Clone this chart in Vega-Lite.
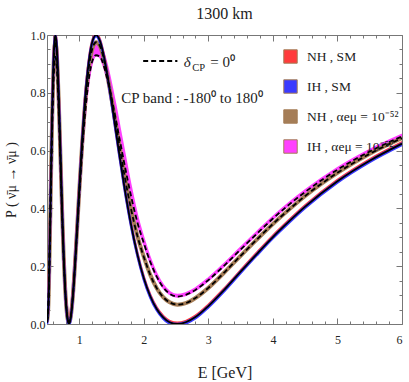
{
  "$schema": "https://vega.github.io/schema/vega-lite/v6.json",
  "width": 355,
  "height": 289,
  "autosize": {"type": "none"},
  "padding": {"left": 47, "top": 35, "right": 7, "bottom": 58},
  "title": {"text": "1300 km", "font": "Liberation Serif", "fontSize": 16, "fontWeight": "normal", "offset": 7, "color": "#222"},
  "config": {
    "view": {"stroke": "#777", "strokeWidth": 1},
    "font": "Liberation Serif"
  },
  "data": {
    "values": [
      {"E": 0.5, "s": 0.004, "n": 0.008, "m": 0.009, "mh": 0.029},
      {"E": 0.52, "s": 0.056, "n": 0.058, "m": 0.056, "mh": 0.076},
      {"E": 0.54, "s": 0.247, "n": 0.244, "m": 0.233, "mh": 0.253},
      {"E": 0.56, "s": 0.497, "n": 0.487, "m": 0.462, "mh": 0.482},
      {"E": 0.58, "s": 0.732, "n": 0.715, "m": 0.678, "mh": 0.698},
      {"E": 0.6, "s": 0.903, "n": 0.881, "m": 0.836, "mh": 0.856},
      {"E": 0.615, "s": 0.976, "n": 0.952, "m": 0.903, "mh": 0.923},
      {"E": 0.63, "s": 1.0, "n": 0.975, "m": 0.925, "mh": 0.945},
      {"E": 0.645, "s": 0.98, "n": 0.955, "m": 0.906, "mh": 0.926},
      {"E": 0.66, "s": 0.922, "n": 0.899, "m": 0.853, "mh": 0.873},
      {"E": 0.68, "s": 0.803, "n": 0.784, "m": 0.744, "mh": 0.764},
      {"E": 0.7, "s": 0.657, "n": 0.642, "m": 0.609, "mh": 0.629},
      {"E": 0.72, "s": 0.502, "n": 0.492, "m": 0.467, "mh": 0.487},
      {"E": 0.74, "s": 0.355, "n": 0.349, "m": 0.332, "mh": 0.352},
      {"E": 0.76, "s": 0.228, "n": 0.225, "m": 0.215, "mh": 0.235},
      {"E": 0.78, "s": 0.128, "n": 0.128, "m": 0.122, "mh": 0.142},
      {"E": 0.8, "s": 0.055, "n": 0.058, "m": 0.056, "mh": 0.076},
      {"E": 0.82, "s": 0.014, "n": 0.017, "m": 0.018, "mh": 0.038},
      {"E": 0.84, "s": 0.0, "n": 0.004, "m": 0.005, "mh": 0.025},
      {"E": 0.86, "s": 0.012, "n": 0.015, "m": 0.016, "mh": 0.036},
      {"E": 0.88, "s": 0.044, "n": 0.047, "m": 0.046, "mh": 0.066},
      {"E": 0.9, "s": 0.094, "n": 0.095, "m": 0.091, "mh": 0.121},
      {"E": 0.93, "s": 0.193, "n": 0.193, "m": 0.186, "mh": 0.221},
      {"E": 0.96, "s": 0.309, "n": 0.306, "m": 0.294, "mh": 0.329},
      {"E": 1.0, "s": 0.467, "n": 0.461, "m": 0.442, "mh": 0.477},
      {"E": 1.04, "s": 0.618, "n": 0.608, "m": 0.582, "mh": 0.617},
      {"E": 1.08, "s": 0.749, "n": 0.734, "m": 0.702, "mh": 0.737},
      {"E": 1.12, "s": 0.853, "n": 0.834, "m": 0.796, "mh": 0.831},
      {"E": 1.16, "s": 0.928, "n": 0.906, "m": 0.865, "mh": 0.9},
      {"E": 1.2, "s": 0.975, "n": 0.951, "m": 0.908, "mh": 0.943},
      {"E": 1.26, "s": 1.0, "n": 0.975, "m": 0.93, "mh": 0.965},
      {"E": 1.32, "s": 0.98, "n": 0.962, "m": 0.925, "mh": 0.962},
      {"E": 1.38, "s": 0.928, "n": 0.918, "m": 0.893, "mh": 0.933},
      {"E": 1.44, "s": 0.854, "n": 0.853, "m": 0.843, "mh": 0.883},
      {"E": 1.5, "s": 0.769, "n": 0.778, "m": 0.782, "mh": 0.822},
      {"E": 1.56, "s": 0.678, "n": 0.7, "m": 0.715, "mh": 0.755},
      {"E": 1.62, "s": 0.588, "n": 0.62, "m": 0.645, "mh": 0.683},
      {"E": 1.7, "s": 0.473, "n": 0.515, "m": 0.553, "mh": 0.588},
      {"E": 1.8, "s": 0.346, "n": 0.4, "m": 0.445, "mh": 0.472},
      {"E": 1.9, "s": 0.241, "n": 0.305, "m": 0.352, "mh": 0.37},
      {"E": 2.0, "s": 0.158, "n": 0.232, "m": 0.28, "mh": 0.292},
      {"E": 2.1, "s": 0.096, "n": 0.17, "m": 0.215, "mh": 0.224},
      {"E": 2.2, "s": 0.052, "n": 0.124, "m": 0.164, "mh": 0.171},
      {"E": 2.3, "s": 0.023, "n": 0.093, "m": 0.127, "mh": 0.133},
      {"E": 2.4, "s": 0.006, "n": 0.075, "m": 0.105, "mh": 0.11},
      {"E": 2.52, "s": 0.0, "n": 0.067, "m": 0.095, "mh": 0.1},
      {"E": 2.65, "s": 0.006, "n": 0.072, "m": 0.101, "mh": 0.106},
      {"E": 2.8, "s": 0.024, "n": 0.09, "m": 0.118, "mh": 0.123},
      {"E": 3.0, "s": 0.062, "n": 0.125, "m": 0.152, "mh": 0.157},
      {"E": 3.25, "s": 0.119, "n": 0.179, "m": 0.203, "mh": 0.208},
      {"E": 3.5, "s": 0.181, "n": 0.236, "m": 0.258, "mh": 0.263},
      {"E": 3.75, "s": 0.242, "n": 0.292, "m": 0.312, "mh": 0.317},
      {"E": 4.0, "s": 0.301, "n": 0.346, "m": 0.365, "mh": 0.37},
      {"E": 4.25, "s": 0.355, "n": 0.396, "m": 0.413, "mh": 0.418},
      {"E": 4.5, "s": 0.406, "n": 0.443, "m": 0.457, "mh": 0.462},
      {"E": 5.0, "s": 0.494, "n": 0.523, "m": 0.534, "mh": 0.539},
      {"E": 5.5, "s": 0.565, "n": 0.589, "m": 0.597, "mh": 0.602},
      {"E": 6.0, "s": 0.624, "n": 0.643, "m": 0.649, "mh": 0.654}
    ]
  },
  "resolve": {"axis": {"x": "independent", "y": "independent"}},
  "layer": [
    {
      "mark": {"type": "area", "interpolate": "monotone", "stroke": "#ff40ff", "strokeWidth": 2.5, "clip": true},
      "encoding": {
        "x": {"field": "E", "type": "quantitative", "scale": {"domain": [0.5, 6], "nice": false, "zero": false},
          "axis": {"orient": "bottom", "values": [0.6, 0.8, 1, 1.2, 1.4, 1.6, 1.8, 2, 2.2, 2.4, 2.6, 2.8, 3, 3.2, 3.4, 3.6, 3.8, 4, 4.2, 4.4, 4.6, 4.8, 5, 5.2, 5.4, 5.6, 5.8, 6],
            "labelExpr": "datum.value % 1 === 0 ? format(datum.value, 'd') : ''",
            "tickSize": {"condition": {"test": "datum.value % 1 !== 0", "value": -3}, "value": -6},
            "tickColor": "#777", "domain": false, "grid": false, "labelOverlap": false,
            "labelFont": "Liberation Serif", "labelFontSize": 12, "labelColor": "#222", "labelPadding": 16,
            "title": "E [GeV]", "titleFont": "Liberation Serif", "titleFontSize": 16, "titleFontWeight": "normal", "titleColor": "#222", "titlePadding": 16}},
        "y": {"field": "m", "type": "quantitative", "scale": {"domain": [0, 1], "nice": false, "zero": false},
          "axis": {"orient": "left", "values": [0, 0.05, 0.1, 0.15, 0.2, 0.25, 0.3, 0.35, 0.4, 0.45, 0.5, 0.55, 0.6, 0.65, 0.7, 0.75, 0.8, 0.85, 0.9, 0.95, 1],
            "labelExpr": "round(datum.value * 100) % 20 === 0 ? format(datum.value, '.1f') : ''",
            "tickSize": {"condition": {"test": "round(datum.value * 100) % 20 !== 0", "value": -3}, "value": -6},
            "tickColor": "#777", "domain": false, "grid": false, "labelOverlap": false,
            "labelFont": "Liberation Serif", "labelFontSize": 12, "labelColor": "#222", "labelPadding": 8,
            "title": "P ( ν̄μ → ν̄μ )", "titleFont": "Liberation Serif", "titleFontSize": 14, "titleFontWeight": "normal", "titleColor": "#222", "titlePadding": 12}},
        "y2": {"field": "mh"},
        "color": {"datum": "IH , αeμ = 10⁻⁵²", "type": "nominal",
          "scale": {"domain": ["NH , SM", "IH , SM", "NH , αeμ = 10⁻⁵²", "IH , αeμ = 10⁻⁵²"], "range": ["#ff3b3b", "#3a3aff", "#a57d57", "#ff40ff"]},
          "legend": {"orient": "none", "legendX": 236, "legendY": 14, "title": null, "padding": 0, "symbolType": "square", "symbolSize": 180, "symbolStrokeColor": "#888", "symbolStrokeWidth": 1, "symbolOpacity": 1, "rowPadding": 11, "labelFont": "Liberation Serif", "labelFontSize": 13.5, "labelColor": "#222", "labelOffset": 9}}
      }
    },
    {
      "mark": {"type": "area", "interpolate": "monotone", "stroke": "#a57d57", "strokeWidth": 4, "clip": true},
      "encoding": {
        "x": {"field": "E", "type": "quantitative", "scale": {"domain": [0.5, 6], "nice": false, "zero": false},
          "axis": {"orient": "top", "values": [0.6, 0.8, 1, 1.2, 1.4, 1.6, 1.8, 2, 2.2, 2.4, 2.6, 2.8, 3, 3.2, 3.4, 3.6, 3.8, 4, 4.2, 4.4, 4.6, 4.8, 5, 5.2, 5.4, 5.6, 5.8, 6],
            "labels": false, "title": null, "domain": false, "grid": false, "tickColor": "#777",
            "tickSize": {"condition": {"test": "datum.value % 1 !== 0", "value": -3}, "value": -6}}},
        "y": {"field": "n", "type": "quantitative", "scale": {"domain": [0, 1], "nice": false, "zero": false},
          "axis": {"orient": "right", "values": [0, 0.05, 0.1, 0.15, 0.2, 0.25, 0.3, 0.35, 0.4, 0.45, 0.5, 0.55, 0.6, 0.65, 0.7, 0.75, 0.8, 0.85, 0.9, 0.95, 1],
            "labels": false, "title": null, "domain": false, "grid": false, "tickColor": "#777",
            "tickSize": {"condition": {"test": "round(datum.value * 100) % 20 !== 0", "value": -3}, "value": -6}}},
        "y2": {"field": "n"},
        "color": {"datum": "NH , αeμ = 10⁻⁵²", "type": "nominal"}
      }
    },
    {
      "mark": {"type": "area", "interpolate": "monotone", "stroke": "#ff3b3b", "strokeWidth": 2.5, "yOffset": -1.2, "clip": true},
      "encoding": {
        "x": {"field": "E", "type": "quantitative", "scale": {"domain": [0.5, 6], "nice": false, "zero": false}, "axis": null},
        "y": {"field": "s", "type": "quantitative", "scale": {"domain": [0, 1], "nice": false, "zero": false}, "axis": null},
        "y2": {"field": "s"},
        "color": {"datum": "NH , SM", "type": "nominal"}
      }
    },
    {
      "mark": {"type": "area", "interpolate": "monotone", "stroke": "#3a3aff", "strokeWidth": 2.5, "yOffset": 1.2, "clip": true},
      "encoding": {
        "x": {"field": "E", "type": "quantitative", "scale": {"domain": [0.5, 6], "nice": false, "zero": false}, "axis": null},
        "y": {"field": "s", "type": "quantitative", "scale": {"domain": [0, 1], "nice": false, "zero": false}, "axis": null},
        "y2": {"field": "s"},
        "color": {"datum": "IH , SM", "type": "nominal"}
      }
    },
    {
      "mark": {"type": "line", "interpolate": "monotone", "color": "#000", "strokeWidth": 1.8, "clip": true},
      "encoding": {
        "x": {"field": "E", "type": "quantitative", "scale": {"domain": [0.5, 6], "nice": false, "zero": false}, "axis": null},
        "y": {"field": "s", "type": "quantitative", "scale": {"domain": [0, 1], "nice": false, "zero": false}, "axis": null}
      }
    },
    {
      "mark": {"type": "line", "interpolate": "monotone", "color": "#000", "strokeWidth": 1.8, "strokeDash": [5, 3], "clip": true},
      "encoding": {
        "x": {"field": "E", "type": "quantitative", "scale": {"domain": [0.5, 6], "nice": false, "zero": false}, "axis": null},
        "y": {"field": "n", "type": "quantitative", "scale": {"domain": [0, 1], "nice": false, "zero": false}, "axis": null}
      }
    },
    {
      "mark": {"type": "line", "interpolate": "monotone", "color": "#000", "strokeWidth": 1.8, "strokeDash": [5, 3], "clip": true},
      "encoding": {
        "x": {"field": "E", "type": "quantitative", "scale": {"domain": [0.5, 6], "nice": false, "zero": false}, "axis": null},
        "y": {"field": "m", "type": "quantitative", "scale": {"domain": [0, 1], "nice": false, "zero": false}, "axis": null}
      }
    },
    {
      "data": {"values": [{}]},
      "mark": {"type": "rule", "color": "#000", "strokeWidth": 2, "strokeDash": [5, 3]},
      "encoding": {
        "x": {"datum": 1.99, "type": "quantitative", "scale": {"domain": [0.5, 6], "nice": false, "zero": false}, "axis": null},
        "x2": {"datum": 2.52},
        "y": {"datum": 0.91, "type": "quantitative", "scale": {"domain": [0, 1], "nice": false, "zero": false}, "axis": null}
      }
    },
    {
      "data": {"values": [{}]},
      "mark": {"type": "text", "font": "Liberation Serif", "fontSize": 15, "fontStyle": "italic", "align": "left", "baseline": "middle", "color": "#222"},
      "encoding": {
        "x": {"datum": 2.62, "type": "quantitative", "scale": {"domain": [0.5, 6], "nice": false, "zero": false}, "axis": null},
        "y": {"datum": 0.905, "type": "quantitative", "scale": {"domain": [0, 1], "nice": false, "zero": false}, "axis": null},
        "text": {"value": "δ"}
      }
    },
    {
      "data": {"values": [{}]},
      "mark": {"type": "text", "font": "Liberation Serif", "fontSize": 10.5, "align": "left", "baseline": "middle", "color": "#222"},
      "encoding": {
        "x": {"datum": 2.75, "type": "quantitative", "scale": {"domain": [0.5, 6], "nice": false, "zero": false}, "axis": null},
        "y": {"datum": 0.886, "type": "quantitative", "scale": {"domain": [0, 1], "nice": false, "zero": false}, "axis": null},
        "text": {"value": "CP"}
      }
    },
    {
      "data": {"values": [{}]},
      "mark": {"type": "text", "font": "Liberation Serif", "fontSize": 15, "align": "left", "baseline": "middle", "color": "#222"},
      "encoding": {
        "x": {"datum": 3.03, "type": "quantitative", "scale": {"domain": [0.5, 6], "nice": false, "zero": false}, "axis": null},
        "y": {"datum": 0.905, "type": "quantitative", "scale": {"domain": [0, 1], "nice": false, "zero": false}, "axis": null},
        "text": {"value": "= 0⁰"}
      }
    },
    {
      "data": {"values": [{}]},
      "mark": {"type": "text", "font": "Liberation Serif", "fontSize": 15, "align": "left", "baseline": "middle", "color": "#222"},
      "encoding": {
        "x": {"datum": 1.65, "type": "quantitative", "scale": {"domain": [0.5, 6], "nice": false, "zero": false}, "axis": null},
        "y": {"datum": 0.783, "type": "quantitative", "scale": {"domain": [0, 1], "nice": false, "zero": false}, "axis": null},
        "text": {"value": "CP  band : -180⁰  to  180⁰"}
      }
    }
  ]
}
